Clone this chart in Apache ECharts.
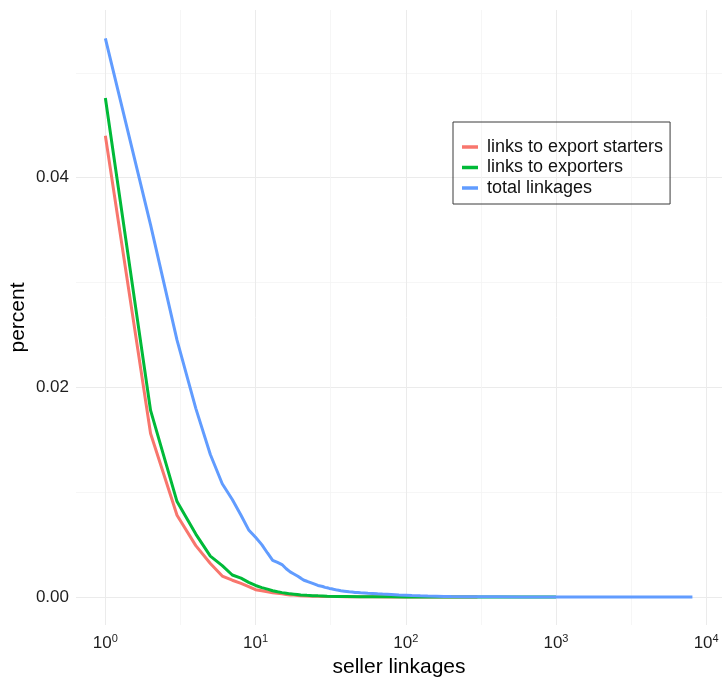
<!DOCTYPE html>
<html>
<head>
<meta charset="utf-8">
<script src="https://cdn.jsdelivr.net/npm/echarts@6/dist/echarts.min.js"></script>
<style>
  html, body { margin: 0; padding: 0; background: #ffffff; }
  #chart { width: 722px; height: 682px; }
</style>
</head>
<body>
<div id="chart"></div>
<script>
// Seller linkage distribution (share of sellers by number of linkages)
const seriesNames = ['links to export starters', 'links to exporters', 'total linkages'];
const seriesColors = ['#F8766D', '#00BA38', '#619CFF'];

const kStarters = [1, 2, 3, 4, 5, 6, 7, 8, 9, 10, 11, 12, 13, 14, 15, 16, 17, 18, 19, 20,
  22, 24, 26, 28, 30, 35, 40, 50, 60, 80, 100, 150, 300];
const starters = [0.0440, 0.0156, 0.0078, 0.0049, 0.0032, 0.0020, 0.0016, 0.0013, 0.0010, 0.0007,
  0.0006, 0.0005, 0.0004, 0.00035, 0.0003, 0.00025, 0.0002, 0.00018, 0.00015, 0.00013,
  0.0001, 0.00008, 0.00007, 0.00006, 0.00005, 0.00004, 0.00003, 0.00002, 0.000015, 0.00001,
  0.000006, 0.000003, 0.000001];

const kExporters = [1, 2, 3, 4, 5, 6, 7, 8, 9, 10, 11, 12, 13, 14, 15, 16, 17, 18, 19, 20,
  22, 24, 26, 28, 30, 35, 40, 50, 60, 80, 100, 150, 200, 400, 1000];
const exporters = [0.0476, 0.0178, 0.0091, 0.0060, 0.0039, 0.0030, 0.0021, 0.0018, 0.0014, 0.0011,
  0.0009, 0.00075, 0.0006, 0.0005, 0.00042, 0.00036, 0.0003, 0.00027, 0.00024, 0.0002,
  0.00016, 0.00013, 0.00011, 0.0001, 0.00008, 0.00006, 0.00005, 0.00003, 0.00002, 0.000015,
  0.00001, 0.000005, 0.000003, 0.000002, 0.000001];

const kTotal = [1, 2, 3, 4, 5, 6, 7, 8, 9, 10, 11, 12, 13, 14, 15, 16, 17, 18, 19, 20,
  21, 22, 23, 24, 25, 26, 27, 28, 29, 30, 31, 32, 33, 34, 35, 36, 37, 38, 39, 40,
  42, 44, 46, 48, 50, 53, 56, 60, 65, 70, 75, 80, 90, 100, 110, 125, 140, 160, 180, 200,
  250, 300, 400, 600, 1000, 2000, 4000, 8100];
const total = [0.0533, 0.0355, 0.0245, 0.0180, 0.0136, 0.0108, 0.0093, 0.0078, 0.0064, 0.0057,
  0.0050, 0.0042, 0.0035, 0.0033, 0.0031, 0.0027, 0.0024, 0.0022, 0.0020, 0.0018,
  0.0016, 0.0015, 0.0014, 0.0013, 0.0012, 0.0011, 0.00105, 0.0010, 0.00092, 0.00088,
  0.00082, 0.00079, 0.00074, 0.00072, 0.00066, 0.00064, 0.0006, 0.00061, 0.00056, 0.00055,
  0.0005, 0.00048, 0.00044, 0.00043, 0.0004, 0.00038, 0.00035, 0.00033, 0.0003, 0.00028,
  0.00027, 0.00025, 0.0002, 0.00017, 0.00014, 0.00011, 0.00009, 0.00007, 0.00005, 0.00004,
  0.00003, 0.00002, 0.000015, 0.00001, 0.000005, 0.000003, 0.000001, 0.000001];

// axis breaks: decades (labelled) and half decades (minor grid)
const xMajorTicks = [1, 10, 100, 1000, 10000];
const xTickLabels = ['0', '1', '2', '3', '4'];
const xMinorTicks = [0.31623, 3.1623, 31.623, 316.23, 3162.3];
const yMajorTicks = [0, 0.02, 0.04];
const yTickLabels = ['0.00', '0.02', '0.04'];
const yMinorTicks = [0.01, 0.03, 0.05];

// panel limits with 5% padding around the data range (log space for x)
const xMin = Math.pow(10, -0.1955);
const xMax = Math.pow(10, 4.1055);
const yMin = -0.00267;
const yMax = 0.0560;

function pairs(ks, vs) {
  return ks.map((k, i) => [k, vs[i]]);
}

const FONT = '"Liberation Sans", Arial, sans-serif';
const TICK_COLOR = '#1e1e1e';

const chart = echarts.init(document.getElementById('chart'), null, { renderer: 'canvas' });

const option = {
  animation: false,
  backgroundColor: '#ffffff',
  textStyle: { fontFamily: FONT },
  grid: { left: 76, right: 0, top: 10, bottom: 57, containLabel: false, outerBoundsMode: 'none' },
  legend: {
    orient: 'vertical',
    left: 453,
    top: 122,
    padding: [15, 7, 6, 9],
    borderColor: '#3a3a3a',
    borderWidth: 1,
    itemGap: 0.5,
    itemWidth: 16,
    itemHeight: 3.5,
    icon: 'rect',
    textStyle: { fontFamily: FONT, fontSize: 18, color: '#111', lineHeight: 20, padding: [0, 0, 0, 4] },
    data: seriesNames
  },
  xAxis: [
    {
      type: 'log',
      logBase: 10,
      min: xMin,
      max: xMax,
      name: 'seller linkages',
      nameLocation: 'middle',
      nameGap: 27,
      nameTextStyle: { fontFamily: FONT, fontSize: 21, color: '#000' },
      axisLine: { show: false },
      axisTick: { show: false, customValues: xMajorTicks },
      axisLabel: {
        customValues: xMajorTicks,
        margin: 8,
        color: TICK_COLOR,
        hideOverlap: false,
        formatter: function (v) {
          const p = Math.round(Math.log10(v));
          return '{b|10}{s|' + xTickLabels[xMajorTicks.indexOf(Math.pow(10, p))] + '}';
        },
        rich: {
          b: { fontFamily: FONT, fontSize: 17, color: TICK_COLOR },
          s: { fontFamily: FONT, fontSize: 11, color: TICK_COLOR, padding: [0, 0, 10, 0] }
        }
      },
      splitLine: { show: true, lineStyle: { color: '#EBEBEB', width: 1 } }
    },
    {
      type: 'log',
      logBase: 10,
      min: xMin,
      max: xMax,
      position: 'bottom',
      axisLine: { show: false },
      axisTick: { show: false, customValues: xMinorTicks },
      axisLabel: { show: false, customValues: xMinorTicks },
      splitLine: { show: true, lineStyle: { color: '#F4F4F4', width: 0.8 } }
    }
  ],
  yAxis: [
    {
      type: 'value',
      min: yMin,
      max: yMax,
      name: 'percent',
      nameLocation: 'middle',
      nameGap: 47,
      nameMoveOverlap: false,
      nameRotate: 90,
      nameTextStyle: { fontFamily: FONT, fontSize: 21, color: '#000' },
      axisLine: { show: false },
      axisTick: { show: false, customValues: yMajorTicks },
      axisLabel: {
        customValues: yMajorTicks,
        margin: 7,
        fontFamily: FONT,
        fontSize: 17,
        color: TICK_COLOR,
        formatter: function (v) {
          const i = yMajorTicks.findIndex(t => Math.abs(t - v) < 1e-9);
          return i >= 0 ? yTickLabels[i] : '';
        }
      },
      splitLine: { show: true, lineStyle: { color: '#EBEBEB', width: 1 } }
    },
    {
      type: 'value',
      min: yMin,
      max: yMax,
      position: 'left',
      axisLine: { show: false },
      axisTick: { show: false, customValues: yMinorTicks },
      axisLabel: { show: false, customValues: yMinorTicks },
      splitLine: { show: true, lineStyle: { color: '#F4F4F4', width: 0.8 } }
    }
  ],
  series: [
    { name: seriesNames[0], data: pairs(kStarters, starters) },
    { name: seriesNames[1], data: pairs(kExporters, exporters) },
    { name: seriesNames[2], data: pairs(kTotal, total) }
  ].map((s, i) => ({
    type: 'line',
    name: s.name,
    data: s.data,
    xAxisIndex: 0,
    yAxisIndex: 0,
    showSymbol: false,
    symbol: 'none',
    color: seriesColors[i],
    lineStyle: { color: seriesColors[i], width: 3 },
    z: 3 + i
  }))
};

chart.setOption(option);
</script>
</body>
</html>
